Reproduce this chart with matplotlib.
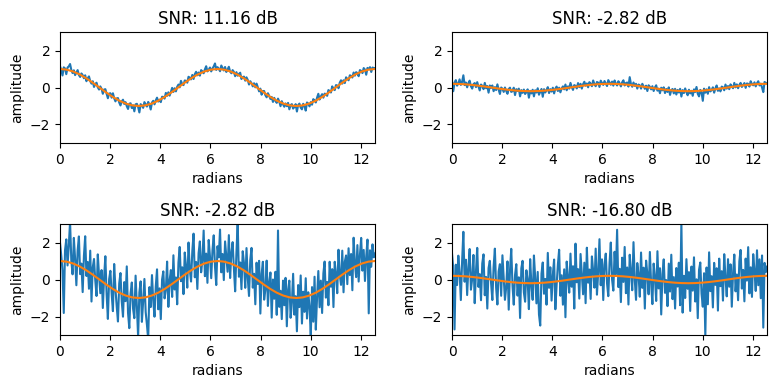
import numpy as np
import matplotlib
matplotlib.use("Agg")
import matplotlib.pyplot as plt

# --------------------- data --------------------- #
titles = ["SNR: 11.16 dB", "SNR: -2.82 dB", "SNR: -2.82 dB", "SNR: -16.80 dB"]

# clean signals, sampled every pi/12 over [0, 4*pi]
clean_big = [1.000, 0.966, 0.866, 0.707, 0.500, 0.259, 0.000, -0.259, -0.500, -0.707, -0.866, -0.966,
             -1.000, -0.966, -0.866, -0.707, -0.500, -0.259, 0.000, 0.259, 0.500, 0.707, 0.866, 0.966,
             1.000, 0.966, 0.866, 0.707, 0.500, 0.259, 0.000, -0.259, -0.500, -0.707, -0.866, -0.966,
             -1.000, -0.966, -0.866, -0.707, -0.500, -0.259, 0.000, 0.259, 0.500, 0.707, 0.866, 0.966,
             1.000]
clean_small = [0.200, 0.193, 0.173, 0.141, 0.100, 0.052, 0.000, -0.052, -0.100, -0.141, -0.173, -0.193,
               -0.200, -0.193, -0.173, -0.141, -0.100, -0.052, 0.000, 0.052, 0.100, 0.141, 0.173, 0.193,
               0.200, 0.193, 0.173, 0.141, 0.100, 0.052, 0.000, -0.052, -0.100, -0.141, -0.173, -0.193,
               -0.200, -0.193, -0.173, -0.141, -0.100, -0.052, 0.000, 0.052, 0.100, 0.141, 0.173, 0.193,
               0.200]

# noisy signals, 251 samples over [0, 4*pi]
noisy_tl = [
    1.15, 0.95, 0.65, 1.09, 1.03, 0.72, 1.08, 1.14, 1.27, 0.95,
    0.78, 0.93, 0.67, 0.81, 0.94, 0.68, 0.57, 0.76, 0.67, 0.50,
    0.66, 0.34, 0.50, 0.60, 0.34, 0.21, 0.34, 0.03, 0.19, 0.26,
    0.01, -0.11, 0.06, -0.07, -0.34, -0.11, -0.09, -0.34, -0.58, -0.33,
    -0.31, -0.55, -0.31, -0.58, -0.75, -0.59, -0.57, -0.81, -0.97, -0.75,
    -0.66, -0.89, -0.79, -1.01, -1.16, -0.88, -0.85, -1.11, -0.96, -1.29,
    -0.91, -0.88, -1.05, -1.35, -0.90, -0.97, -1.10, -0.79, -0.91, -1.03,
    -0.78, -0.93, -1.19, -0.81, -0.72, -0.91, -0.70, -0.55, -0.76, -0.66,
    -0.79, -0.50, -0.51, -0.60, -0.29, -0.45, -0.26, -0.44, -0.24, -0.02,
    -0.24, -0.04, -0.21, 0.04, 0.16, 0.01, 0.36, 0.18, 0.13, 0.38,
    0.36, 0.26, 0.58, 0.53, 0.44, 0.68, 0.46, 0.72, 0.85, 0.66,
    0.81, 0.64, 0.94, 0.87, 0.77, 0.98, 1.15, 0.87, 0.96, 1.08,
    0.87, 1.03, 1.14, 1.30, 0.95, 1.10, 1.02, 0.88, 1.19, 1.06,
    0.92, 1.11, 0.84, 0.97, 1.12, 0.86, 0.77, 0.94, 0.84, 0.61,
    0.83, 0.64, 0.73, 0.80, 0.46, 0.56, 0.59, 0.37, 0.55, 0.41,
    0.16, 0.34, 0.23, 0.06, 0.23, 0.01, 0.21, 0.01, -0.21, -0.06,
    -0.39, -0.19, -0.19, -0.42, -0.53, -0.31, -0.45, -0.62, -0.51, -0.78,
    -0.56, -0.73, -0.83, -0.60, -0.76, -1.01, -0.74, -0.91, -1.04, -0.86,
    -1.01, -0.83, -1.18, -0.95, -0.90, -1.14, -1.05, -0.90, -1.30, -0.95,
    -0.87, -1.09, -1.18, -0.88, -1.00, -1.25, -0.81, -0.87, -1.02, -0.79,
    -0.93, -0.63, -0.70, -0.81, -0.55, -0.34, -0.65, -0.48, -0.36, -0.55,
    -0.33, -0.36, -0.45, -0.14, -0.19, -0.27, 0.06, -0.07, -0.14, 0.13,
    0.11, -0.04, 0.26, 0.39, 0.21, 0.39, 0.24, 0.55, 0.47, 0.39,
    0.66, 0.63, 0.54, 0.81, 0.64, 0.83, 0.78, 0.61, 0.94, 0.90,
    0.78, 1.05, 0.97, 0.69, 1.06, 0.99, 1.10, 0.84, 1.08, 1.05,
    1.05]
noisy_tr = [
    0.35, -0.20, 0.25, 0.40, 0.10, 0.21, 0.44, 0.14, 0.30, 0.66,
    0.13, 0.27, 0.01, 0.24, 0.37, 0.07, -0.06, 0.18, 0.24, 0.02,
    0.29, 0.05, -0.16, 0.16, 0.09, -0.09, 0.25, -0.04, 0.08, -0.28,
    0.11, -0.02, 0.11, -0.20, 0.02, -0.14, 0.17, -0.11, -0.35, 0.00,
    -0.07, -0.24, 0.00, -0.19, -0.34, -0.08, -0.01, -0.24, -0.20, -0.01,
    -0.41, -0.09, -0.19, -0.06, -0.48, -0.14, -0.29, -0.11, -0.35, -0.25,
    -0.10, -0.55, -0.18, -0.32, -0.12, -0.48, -0.15, -0.27, -0.04, -0.39,
    -0.24, -0.08, -0.50, -0.09, -0.27, -0.14, 0.02, -0.30, -0.09, -0.22,
    -0.01, -0.32, -0.06, 0.05, -0.19, -0.01, -0.26, -0.05, 0.06, -0.10,
    0.16, -0.15, 0.06, -0.06, 0.25, 0.03, -0.13, 0.13, 0.09, -0.05,
    0.24, 0.02, 0.20, -0.06, 0.18, 0.31, 0.10, 0.22, 0.01, 0.29,
    0.20, 0.07, 0.38, 0.18, 0.07, 0.30, 0.26, 0.03, 0.37, 0.24,
    0.14, 0.35, 0.22, 0.08, 0.40, 0.28, 0.15, 0.32, 0.10, 0.38,
    0.21, 0.11, 0.34, 0.23, 0.06, 0.28, 0.39, 0.11, 0.24, 0.27,
    0.05, 0.56, 0.18, 0.04, 0.27, 0.09, 0.20, -0.06, 0.16, 0.12,
    -0.06, 0.20, 0.06, -0.07, 0.10, -0.19, 0.12, 0.04, -0.10, 0.07,
    -0.19, 0.00, 0.12, -0.17, -0.06, -0.31, -0.01, -0.15, 0.01, -0.30,
    -0.08, -0.24, 0.01, -0.40, -0.14, -0.08, -0.32, -0.07, -0.38, -0.13,
    -0.27, -0.07, -0.49, -0.14, -0.30, -0.05, -0.25, -0.42, -0.12, -0.32,
    -0.18, -0.45, -0.10, -0.24, 0.03, -0.34, -0.48, -0.13, -0.27, -0.72,
    -0.06, -0.28, -0.10, -0.34, 0.02, -0.21, -0.14, 0.01, -0.28, -0.04,
    0.11, -0.18, -0.05, -0.21, 0.05, 0.01, -0.15, 0.16, -0.06, 0.08,
    -0.09, 0.17, 0.05, -0.04, 0.25, 0.01, 0.17, -0.04, 0.14, 0.25,
    0.03, 0.14, 0.24, -0.02, 0.22, 0.20, 0.05, 0.34, 0.18, 0.12,
    0.28, 0.06, 0.23, 0.34, 0.11, 0.21, 0.00, -0.25, 0.30, 0.25,
    0.22]
noisy_bl = [
    2.00, 1.30, 0.50, -1.81, 1.58, 2.17, 0.76, 1.84, 3.12, 1.00,
    0.28, 2.25, 1.12, -0.31, 1.56, 2.33, 0.29, 0.86, -0.68, 1.28,
    2.34, 0.19, 0.95, -0.50, 1.56, -1.19, 0.66, 1.11, -0.04, -0.89,
    1.36, 0.21, -0.74, 0.51, -1.54, 0.11, 1.26, -0.79, -2.13, 0.02,
    0.47, -0.77, -1.71, 0.84, -0.50, -1.44, -2.27, -0.21, 0.35, -1.18,
    -2.01, -0.14, -1.17, 0.71, -1.81, -2.63, -0.75, -0.16, -1.58, -2.09,
    0.21, -1.40, -3.10, -0.70, -0.10, -2.29, -1.18, 0.03, -1.76, -2.45,
    -3.23, -0.41, -1.49, 0.24, -1.14, -2.01, -0.38, 0.55, -1.61, -0.48,
    -2.14, 0.00, 0.44, -1.02, -0.57, 0.97, -1.48, -0.04, 0.51, -0.94,
    1.31, -0.54, 0.11, -1.34, 0.91, 1.76, -0.09, 0.66, -0.79, 1.46,
    0.71, -0.44, 2.00, 0.55, -0.11, 1.53, 2.48, 0.12, 0.95, -0.51,
    1.43, 2.06, 0.39, 1.02, 2.65, 0.18, 1.40, -0.18, 2.14, 1.26,
    0.07, 1.58, 2.39, 0.70, -0.30, 1.80, 1.20, 2.70, 0.39, 1.38,
    -0.03, 2.06, 1.24, 0.42, 2.40, 0.08, 1.45, 2.02, 0.59, -0.64,
    1.43, 3.09, 0.15, 0.92, -0.52, 1.53, 0.89, -0.45, 1.70, 0.06,
    -0.89, 1.06, 1.71, -0.44, 0.31, -1.34, 0.91, -0.24, 1.01, -1.84,
    0.31, 0.96, -1.09, -0.54, 1.02, -1.43, -0.17, 0.38, -2.06, 0.00,
    -1.04, 0.42, -1.91, 2.65, -1.48, -0.61, -2.14, -0.06, -1.39, 0.09,
    -2.53, -0.55, -0.06, -2.07, -1.28, 0.31, -1.90, -0.90, -2.80, -0.30,
    -1.49, 0.22, -2.38, -0.66, -1.75, 0.07, -2.11, -0.69, -1.47, -3.04,
    -0.41, -2.28, 0.15, -2.71, -0.97, 0.46, -1.50, -0.06, -1.81, 0.33,
    0.97, -0.98, -0.13, -1.39, 0.96, -0.39, 0.56, -1.49, 0.96, 0.31,
    -0.74, 1.61, 0.26, -0.29, 1.56, -0.69, 0.96, 1.30, -0.25, 1.69,
    0.24, 1.38, -0.58, 2.26, 0.89, 0.13, 1.86, -0.11, 1.32, 2.25,
    0.48, 1.60, -0.08, 1.24, 2.16, -1.83, 1.58, 0.69, 1.90, 1.20,
    1.40]
noisy_br = [
    1.40, 0.60, -2.70, 0.80, -0.30, 1.29, 0.39, -1.11, 0.98, 2.58,
    -0.12, 1.07, -0.84, 0.66, 1.65, -0.55, 0.04, 1.33, -1.28, 0.42,
    1.71, -0.40, 0.29, -1.12, 0.87, 1.36, -0.85, 0.14, -1.57, 0.62,
    1.01, -0.20, -1.11, 0.68, 1.67, -0.44, -1.35, 0.44, 0.83, -0.88,
    1.31, 0.11, -1.10, -0.41, 0.98, -1.63, 0.47, 1.66, -0.35, -1.36,
    0.24, 0.83, -0.87, 0.12, -2.08, 0.61, 1.01, -0.69, -1.20, 0.50,
    0.00, -1.60, 1.10, -0.30, -1.10, 1.30, 0.10, -1.29, 0.41, -1.89,
    -2.49, 0.32, 0.92, -0.77, 0.03, -1.36, 1.44, -0.45, 0.66, -1.14,
    0.27, 1.08, -1.61, -0.30, 0.81, 1.61, -0.88, 0.23, -1.36, 0.55,
    -2.04, 0.97, 0.08, -0.71, 1.40, -0.39, 0.72, -1.57, 1.94, -0.15,
    0.56, -1.03, 1.38, 0.29, -0.80, 0.91, -1.28, 1.72, -0.17, 0.54,
    -1.05, 1.25, 0.46, -0.44, 1.67, -0.82, 0.38, 2.18, -0.31, 1.09,
    -1.11, 0.80, 1.40, -0.20, -0.90, 0.90, 2.00, 0.00, -0.60, 1.50,
    0.29, 2.69, -0.41, 0.58, -1.22, 1.18, -0.13, 1.76, -0.74, 0.65,
    -1.35, 1.34, 0.43, -0.58, 2.02, 0.01, -1.10, 0.89, 0.28, -0.93,
    1.46, -0.45, 0.64, -1.57, 1.02, 0.31, -0.80, 1.49, -0.22, -1.33,
    0.86, 0.15, -1.16, 1.53, -0.48, 0.61, -1.89, 0.30, 1.09, -0.72,
    -0.03, -1.44, 0.86, -0.65, 1.34, -1.06, 0.13, -1.57, 0.62, -0.38,
    0.91, -1.39, 3.11, -1.79, 0.20, -1.00, 1.10, -0.50, 0.40, -1.70,
    0.70, -0.60, 1.20, -1.19, 0.01, -2.09, 0.52, 0.92, -0.77, -1.47,
    0.34, -3.06, 0.65, -1.34, 1.47, -0.63, 0.18, -1.51, 0.90, -0.29,
    0.61, -1.68, 1.13, -0.36, 0.45, -1.14, 1.37, 0.08, -0.91, 1.10,
    -0.39, 0.82, -1.47, 0.34, 1.35, -0.64, 0.27, -1.12, 0.99, 1.60,
    -0.49, 0.52, -1.18, 1.13, -0.06, 1.75, -0.75, 0.66, -0.94, 1.37,
    0.48, -0.62, 1.58, -0.31, 1.09, -1.01, 1.30, -2.60, 0.90, 0.40,
    0.70]

# --------------------- plot --------------------- #
x_end = 4 * np.pi
panels = [(noisy_tl, clean_big), (noisy_tr, clean_small), (noisy_bl, clean_big), (noisy_br, clean_small)]

fig = plt.figure(figsize=(7.76, 3.89), dpi=100)
lefts = [0.0773, 0.5825, 0.0773, 0.5825]
bottoms = [0.6324, 0.6324, 0.1388, 0.1388]

for k, (noisy, clean) in enumerate(panels):
    ax = fig.add_axes([lefts[k], bottoms[k], 0.406, 0.2853])
    xn = np.linspace(0, x_end, len(noisy))
    xc = np.linspace(0, x_end, len(clean))
    ax.plot(xn, noisy, color="tab:blue")
    ax.plot(xc, clean, color="tab:orange")
    ax.set_xlim(0, x_end)
    ax.set_ylim(-3, 3)
    ax.set_title(titles[k])
    ax.set_xlabel("radians")
    ax.set_ylabel("amplitude")

fig.savefig("out.png", dpi=100)
